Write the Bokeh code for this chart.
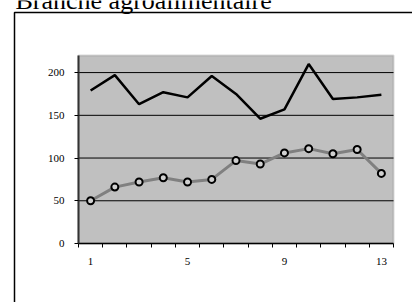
from bokeh.plotting import figure
from bokeh.models import FixedTicker, Range1d, BoxAnnotation, Label, LinearAxis
from bokeh.embed import file_html
from bokeh.resources import INLINE

# ---- data ----
periods = list(range(1, 14))
series_top = [179, 197, 163, 177, 171, 196, 175, 146, 157, 210, 169, 171, 174]
series_low = [50, 66, 72, 77, 72, 75, 97, 93, 106, 111, 105, 110, 82]
x_tick_labels = [1, 5, 9, 13]
y_ticks = [0, 50, 100, 150, 200]
y_max = 220
title_text = "Branche agroalimentaire"

FONT = "Liberation Serif"

# ---- layout (pixels) ----
W, H = 412, 302
PL, PR, PT, PB = 78, 393, 55, 243          # inner plot area
OUT_L, OUT_T = 14, 12                      # outer chart frame

x_lo, x_hi = periods[0] - 0.5, periods[-1] + 0.5
ppx = (PR - PL) / (x_hi - x_lo)
ppy = (PB - PT) / y_max
xr = Range1d(x_lo - PL / ppx, x_hi + (W - PR) / ppx)
yr = Range1d(0 - (H - PB) / ppy, y_max + PT / ppy)

p = figure(width=W, height=H, output_backend="svg", toolbar_location=None,
           x_range=xr, y_range=yr, x_axis_location=None, y_axis_location=None,
           min_border=0, min_border_left=0, min_border_right=0,
           min_border_top=0, min_border_bottom=0)
p.background_fill_color = "white"
p.border_fill_color = "white"
p.outline_line_color = None
p.xgrid.visible = False
p.ygrid.visible = False

# inner plot area (silver with grey border)
p.add_layout(BoxAnnotation(left=x_lo, right=x_hi, bottom=0, top=y_max,
                           fill_color="#c0c0c0", fill_alpha=1,
                           line_color="#808080", line_width=2, level="underlay"))

# horizontal gridlines
grid_y = [t for t in y_ticks if t > 0]
p.segment(x0=[x_lo] * len(grid_y), x1=[x_hi] * len(grid_y), y0=grid_y, y1=grid_y,
          line_color="black", line_width=1)

# y axis
yax = LinearAxis(fixed_location=x_lo, bounds=(0, y_max),
                 ticker=FixedTicker(ticks=y_ticks))
yax.major_label_text_font = FONT
yax.major_label_text_font_size = "11px"
yax.major_label_text_color = "black"
yax.major_tick_out = 4
yax.major_tick_in = 0
yax.major_tick_line_color = "black"
yax.minor_tick_line_color = None
yax.axis_line_color = "#333333"
yax.axis_line_width = 2
yax.major_label_standoff = 10
p.add_layout(yax, "left")

# x axis: labels at category centres, ticks between categories
boundaries = [v - 0.5 for v in periods] + [periods[-1] + 0.5]
xax = LinearAxis(fixed_location=0, bounds=(x_lo, x_hi),
                 ticker=FixedTicker(ticks=x_tick_labels, minor_ticks=boundaries))
xax.major_label_text_font = FONT
xax.major_label_text_font_size = "11px"
xax.major_label_text_color = "black"
xax.major_tick_line_color = None
xax.major_tick_out = 0
xax.major_tick_in = 0
xax.minor_tick_line_color = "black"
xax.minor_tick_out = 4
xax.minor_tick_in = 0
xax.axis_line_color = "black"
xax.axis_line_width = 1.5
xax.major_label_standoff = 10
p.add_layout(xax, "below")

# series
p.line(periods, series_top, line_color="black", line_width=2.5)
p.line(periods, series_low, line_color="#808080", line_width=3)
p.scatter(periods, series_low, size=7, marker="circle", fill_color="#d0d0d0",
          line_color="black", line_width=2)

# outer chart frame (only left and top edges fall inside the window)
p.add_layout(BoxAnnotation(left=OUT_L, right=W + 20, top=OUT_T, bottom=H + 20,
                           left_units="canvas", right_units="canvas",
                           top_units="canvas", bottom_units="canvas",
                           fill_alpha=0, line_color="black", line_alpha=1,
                           line_width=1.5))

# title (partly above the window, as in the original)
p.add_layout(Label(x=15, y=0, x_units="canvas", y_units="canvas", text=title_text,
                   text_font=FONT, text_font_size="26px", text_color="black",
                   text_baseline="alphabetic", text_align="left"))

html = file_html(p, INLINE)
html = html.replace("<head>", "<head><style>html,body{margin:0;padding:0;}</style>", 1)
open("out.html", "w").write(html)
